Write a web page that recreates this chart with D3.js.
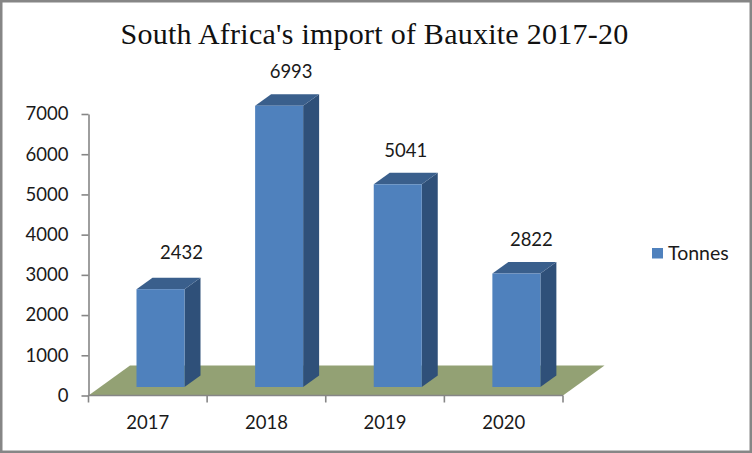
<!DOCTYPE html>
<html><head><meta charset="utf-8">
<script src="https://cdn.jsdelivr.net/npm/d3@7"></script>
<style>html,body{margin:0;padding:0;background:#fff}svg{display:block}
text{font-family:Lato,"Open Sans",sans-serif;fill:#1a1a1a}</style></head>
<body><div id="c"></div>
<script>
const title = "South Africa's import of Bauxite 2017-20";
const years = ["2017","2018","2019","2020"];
const tonnes = [2432,6993,5041,2822];
const seriesName = "Tonnes";
const yTicks = [0,1000,2000,3000,4000,5000,6000,7000];

const W=752,H=453;
const svg=d3.select("#c").append("svg").attr("width",W).attr("height",H);
svg.append("rect").attr("x",1.25).attr("y",1.25).attr("width",W-2.5).attr("height",H-2.5)
  .attr("fill","#fff").attr("stroke","#868686").attr("stroke-width",2.5);

const x=d3.scaleBand().domain(years).range([88.5,563]);
const y=d3.scaleLinear().domain([0,7000]).range([395.5,114]);
const dx=16,dy=-11.5,floorDx=41.5,floorDy=-30,barLeft=48,barW=48,frontLift=8.5;
const [x0,x1]=x.range();
const poly=(pts,fill)=>svg.append("polygon").attr("points",pts.map(p=>p.join(",")).join(" ")).attr("fill",fill);

// floor
poly([[x0,y(0)],[x1,y(0)],[x1+floorDx,y(0)+floorDy],[x0+floorDx,y(0)+floorDy]],"#93a174");

// axes
const gy=svg.append("g").attr("transform",`translate(${x0},0)`)
  .call(d3.axisLeft(y).tickValues(yTicks).tickFormat(d3.format("d")).tickSize(7).tickSizeOuter(0).tickPadding(13));
const gx=svg.append("g").attr("transform",`translate(0,${y(0)})`).call(d3.axisBottom(x).tickValues([]).tickSizeOuter(0));
[gy,gx].forEach(g=>{g.selectAll("path,line").attr("stroke","#868686").attr("stroke-width",1.6);});
gy.selectAll("text").attr("font-size",18.5).style("font-family","Lato,sans-serif").attr("fill","#1a1a1a");
gx.select("path").attr("d",`M${x0},0H${x1}`);
[...years.map(d=>x(d)),x1].forEach(t=>gx.append("line").attr("x1",t).attr("x2",t).attr("y1",0).attr("y2",7).attr("stroke","#868686").attr("stroke-width",1.6));
years.forEach(d=>{
  svg.append("text").attr("x",x(d)+x.bandwidth()/2).attr("y",429).attr("text-anchor","middle").attr("font-size",18.5).text(d);
});

// bars
years.forEach((d,i)=>{
  const L=x(d)+barLeft,R=L+barW,base=y(0)-frontLift,top=base-(y(0)-y(tonnes[i]));
  poly([[R,base],[R+dx,base+dy],[R+dx,top+dy],[R,top]],"#2f5079");
  poly([[L,top],[R,top],[R+dx,top+dy],[L+dx,top+dy]],"#3a5f8c");
  svg.append("rect").attr("x",L).attr("y",top).attr("width",barW).attr("height",base-top).attr("fill","#4f81bd");
});

// value labels
const labelDx=[45,36,32,39], labelDy=[-30,-28,-27,-28];
years.forEach((d,i)=>{
  const L=x(d)+barLeft,base=y(0)-frontLift,top=base-(y(0)-y(tonnes[i]));
  svg.append("text").attr("x",L+labelDx[i]).attr("y",top+labelDy[i]).attr("text-anchor","middle").attr("font-size",18.5).text(tonnes[i]);
});

// title
svg.append("text").attr("x",374.5).attr("y",44).attr("text-anchor","middle").attr("font-size",30)
  .attr("letter-spacing",0.25).style("font-family","'Liberation Serif',serif").style("fill","#111").text(title);

// legend
svg.append("rect").attr("x",652).attr("y",248).attr("width",11).attr("height",10.5).attr("fill","#4f81bd");
svg.append("text").attr("x",668).attr("y",259.5).attr("font-size",19.5).text(seriesName);
</script></body></html>
